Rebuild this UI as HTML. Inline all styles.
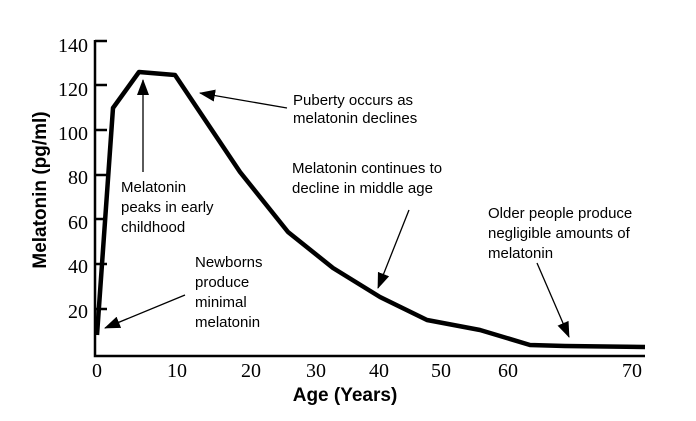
<!DOCTYPE html>
<html><head><style>body{margin:0;background:#fff}</style></head><body>
<svg width="696" height="416" xmlns="http://www.w3.org/2000/svg">
<defs><marker id="b" markerWidth="16" markerHeight="12" refX="15" refY="6" orient="auto" markerUnits="userSpaceOnUse"><path d="M0,0 L16,6 L0,12 Z" fill="#000"/></marker></defs>
<g stroke="#000" stroke-width="2.5" fill="none">
<path d="M95,40 L95,356 L645,356"/>
<path d="M95,41 H107 M95,85 H107 M95,130 H107 M95,175 H107 M95,219 H107 M95,264 H107 M95,309 H107"/>
</g>
<g font-family="Liberation Serif,serif" font-size="20" text-anchor="end" fill="#000">
<text x="88" y="52">140</text><text x="88" y="96">120</text><text x="88" y="140">100</text><text x="88" y="184">80</text><text x="88" y="229">60</text><text x="88" y="273">40</text><text x="88" y="318">20</text>
</g>
<g font-family="Liberation Serif,serif" font-size="20" text-anchor="middle" fill="#000">
<text x="97" y="377">0</text><text x="177" y="377">10</text><text x="251" y="377">20</text><text x="316" y="377">30</text><text x="379" y="377">40</text><text x="441" y="377">50</text><text x="508" y="377">60</text><text x="632" y="377">70</text>
</g>
<text x="345" y="401" font-family="Liberation Sans,sans-serif" font-size="19" font-weight="bold" text-anchor="middle">Age (Years)</text>
<text transform="translate(46,190) rotate(-90)" font-family="Liberation Sans,sans-serif" font-size="19" font-weight="bold" text-anchor="middle">Melatonin (pg/ml)</text>
<path d="M97,335 L113,108 L139,72 L175,75 L240,172 L288,232 L333,268 L380,297 L427,320 L480,330 L530,345 L565,346 L645,347" stroke="#000" stroke-width="4.5" fill="none" stroke-linejoin="round"/>
<g stroke="#000" stroke-width="1.3" fill="none">
<line x1="185" y1="295" x2="105" y2="328" marker-end="url(#b)"/>
<line x1="143" y1="172" x2="143" y2="80" marker-end="url(#b)"/>
<line x1="287" y1="108" x2="200" y2="93" marker-end="url(#b)"/>
<line x1="409" y1="210" x2="378" y2="288" marker-end="url(#b)"/>
<line x1="537" y1="263" x2="569" y2="337" marker-end="url(#b)"/>
</g>
<g font-family="Liberation Sans,sans-serif" font-size="15" fill="#000">
<text x="293" y="105">Puberty occurs as</text><text x="293" y="123">melatonin declines</text>
<text x="292" y="173">Melatonin continues to</text><text x="292" y="193">decline in middle age</text>
<text x="488" y="218">Older people produce</text><text x="488" y="238">negligible amounts of</text><text x="488" y="258">melatonin</text>
<text x="121" y="192">Melatonin</text><text x="121" y="212">peaks in early</text><text x="121" y="232">childhood</text>
<text x="195" y="267">Newborns</text><text x="195" y="287">produce</text><text x="195" y="307">minimal</text><text x="195" y="327">melatonin</text>
</g>
</svg>
</body></html>
